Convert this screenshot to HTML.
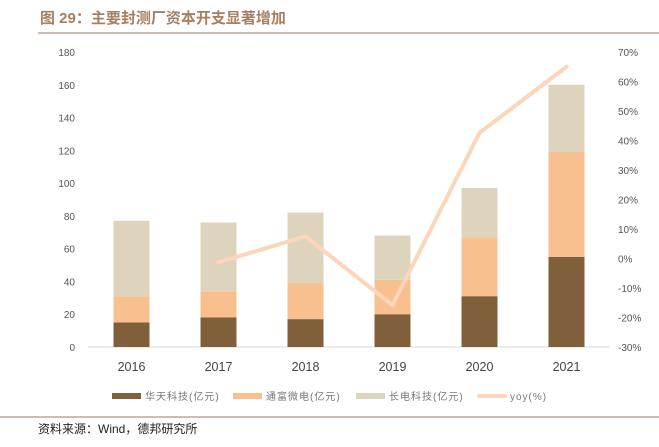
<!DOCTYPE html>
<html><head><meta charset="utf-8"><style>
body{margin:0;background:#fff;width:659px;height:447px;overflow:hidden;font-family:"Liberation Sans","Noto Sans CJK SC",sans-serif}
</style></head><body>
<svg width="659" height="447" style="position:absolute;left:0;top:0">
<text x="40" y="23" font-size="15" font-weight="bold" fill="#a57f62" font-family="'Liberation Sans','Noto Sans CJK SC',sans-serif">图 29：主要封测厂资本开支显著增加</text>
<line x1="38" y1="33" x2="659" y2="33" stroke="#b09580" stroke-width="1.2"/>
<g id="plot"></g>
<line x1="0" y1="417" x2="659" y2="417" stroke="#b09580" stroke-width="1.2"/>
<text x="38" y="433" font-size="12" fill="#222">资料来源：Wind，德邦研究所</text>
</svg>
<script>
const categories=['2016','2017','2018','2019','2020','2021'];
const huatian=[15,18,17,20,31,55];
const tongfu=[16,16,22,21,36,64];
const changdian=[46,42,43,27,30,41];
const yoy=[null,-1.3,7.5,-15.8,42.6,65];
const leftTicks=[0,20,40,60,80,100,120,140,160,180];
const rightTicks=[-30,-20,-10,0,10,20,30,40,50,60,70];
const NS='http://www.w3.org/2000/svg';
const g=document.getElementById('plot');
const X0=88,X1=610,Y0=347,Y1=52;
const band=(X1-X0)/categories.length;
const xc=i=>X0+band*(i+0.5);
const yl=v=>Y0-(v/180)*(Y0-Y1);
const yr=v=>Y0-((v+30)/100)*(Y0-Y1);
function mk(t,a){const e=document.createElementNS(NS,t);for(const k in a)e.setAttribute(k,a[k]);g.appendChild(e);return e;}
leftTicks.forEach(v=>{const t=mk('text',{x:75,y:yl(v)+4,'font-size':10,fill:'#555','text-anchor':'end'});t.textContent=v;

});
rightTicks.forEach(v=>{const t=mk('text',{x:618,y:yr(v)+4,'font-size':10,fill:'#555'});t.textContent=v+'%';

});
const ax=mk('line',{x1:X0,y1:Y0,x2:X1,y2:Y0,stroke:'#d9d9d9','stroke-width':1});


const series=[[huatian,'#80603a','huatian'],[tongfu,'#f8c08f','tongfu'],[changdian,'#ded4bd','changdian']];
const bw=36;
categories.forEach((c,i)=>{let acc=0;
series.forEach(([arr,col,nm])=>{const r=mk('rect',{x:xc(i)-bw/2,y:yl(acc+arr[i]),width:bw,height:yl(acc)-yl(acc+arr[i]),fill:col});


acc+=arr[i];});
const t=mk('text',{x:xc(i),y:371,'font-size':12.5,fill:'#444','text-anchor':'middle'});t.textContent=c;

});
let pts=[];yoy.forEach((v,i)=>{if(v!==null)pts.push(xc(i)+','+yr(v));});
const pl=mk('polyline',{points:pts.join(' '),fill:'none',stroke:'#fcd6ba','stroke-width':4,'stroke-linejoin':'round','stroke-linecap':'round'});


const leg=[[112,'#80603a','华天科技(亿元)','rect'],[233,'#f8c08f','通富微电(亿元)','rect'],[356,'#ded4bd','长电科技(亿元)','rect'],[477,'#fcd6ba','yoy(%)','line']];
leg.forEach(([x,col,lab,kind])=>{
let m;if(kind==='rect')m=mk('rect',{x:x,y:393,width:29,height:6,fill:col});else m=mk('line',{x1:x+2,y1:396,x2:x+28,y2:396,stroke:col,'stroke-width':4,'stroke-linecap':'round'});


const t=mk('text',{x:x+33,y:400,'font-size':10,fill:'#777','letter-spacing':'1'});t.textContent=lab;

});
</script>
</body></html>
